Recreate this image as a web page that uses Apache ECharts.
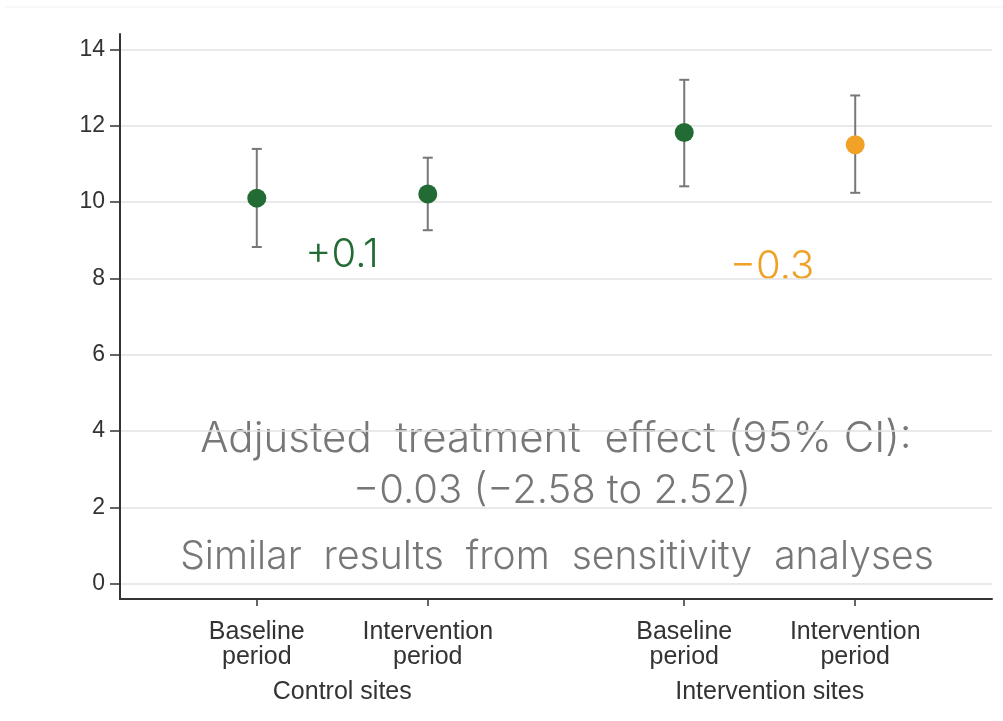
<!DOCTYPE html>
<html>
<head>
<meta charset="utf-8">
<script src="https://cdn.jsdelivr.net/npm/echarts@6/dist/echarts.min.js"></script>
<style>html,body{margin:0;padding:0;background:#fff}#c{width:1003px;height:721px}</style>
</head>
<body>
<div id="c"></div>
<script>
// ---- data ----
const periodLabels = ['Baseline\nperiod', 'Intervention\nperiod', 'Baseline\nperiod', 'Intervention\nperiod'];
const xPositions = [1, 2, 3.5, 4.5];
const groupLabels = ['Control sites', 'Intervention sites'];
const groupPositions = [1.5, 4];
const means = [10.10, 10.21, 11.82, 11.50];
const lower = [8.82, 9.26, 10.41, 10.24];
const upper = [11.39, 11.16, 13.20, 12.79];
const pointColors = ['#236b35', '#236b35', '#236b35', '#f0a126'];
const yTicks = [0, 2, 4, 6, 8, 10, 12, 14];
const diffLabels = ['+0.1', '\u22120.3'];
const diffColors = ['#236b35', '#f0a126'];
const noteLines = ['Adjusted  treatment  effect (95% CI):', '\u22120.03 (\u22122.58 to 2.52)', 'Similar  results  from  sensitivity  analyses'];

const chart = echarts.init(document.getElementById('c'), null, {renderer: 'canvas'});
const labelFont = "'Liberation Sans', Arial, Helvetica, sans-serif";
const noteFont = "Inter, 'Open Sans', sans-serif";

const option = {
  backgroundColor: '#fff',
  animation: false,
  grid: {left: 120, right: 11, top: 34, bottom: 122, containLabel: false},
  xAxis: [{
    type: 'value', min: 0.2, max: 5.3,
    axisLine: {show: true, onZero: false, lineStyle: {color: '#333', width: 2}},
    axisTick: {show: true, length: 7, customValues: xPositions, lineStyle: {color: '#333', width: 1.5}},
    axisLabel: {
      customValues: xPositions, margin: 21, color: '#333', fontSize: 25, lineHeight: 25,
      fontFamily: labelFont,
      formatter: v => { const i = xPositions.indexOf(v); return i >= 0 ? periodLabels[i] : ''; }
    },
    splitLine: {show: false}
  }, {
    type: 'value', min: 0.2, max: 5.3, position: 'bottom',
    axisLine: {show: false}, axisTick: {show: false}, splitLine: {show: false},
    axisLabel: {
      customValues: groupPositions, margin: 81, color: '#333', fontSize: 25,
      fontFamily: labelFont,
      formatter: v => { const i = groupPositions.indexOf(v); return i >= 0 ? groupLabels[i] : ''; }
    }
  }],
  yAxis: {
    type: 'value', min: -0.4, max: 14.4,
    axisLine: {show: true, onZero: false, lineStyle: {color: '#333', width: 2}},
    axisTick: {show: true, length: 10, customValues: yTicks, lineStyle: {color: '#333', width: 1.5}},
    axisLabel: {customValues: yTicks, margin: 15, color: '#333', fontSize: 23, fontFamily: labelFont},
    splitLine: {show: true, lineStyle: {color: '#e2e2e2', width: 1.5}}
  },
  series: [{
    type: 'custom',
    data: xPositions.map((x, i) => [x, lower[i], upper[i]]),
    renderItem: (params, api) => {
      const x = api.value(0);
      const lo = api.coord([x, api.value(1)]);
      const hi = api.coord([x, api.value(2)]);
      const w = 5;
      const st = {stroke: '#777', lineWidth: 2};
      return {type: 'group', children: [
        {type: 'line', shape: {x1: lo[0], y1: lo[1], x2: hi[0], y2: hi[1]}, style: st},
        {type: 'line', shape: {x1: lo[0] - w, y1: lo[1], x2: lo[0] + w, y2: lo[1]}, style: st},
        {type: 'line', shape: {x1: hi[0] - w, y1: hi[1], x2: hi[0] + w, y2: hi[1]}, style: st}
      ]};
    },
    z: 2
  }, {
    type: 'scatter',
    symbolSize: 19,
    data: xPositions.map((x, i) => ({value: [x, means[i]], itemStyle: {color: pointColors[i], opacity: 1}})),
    itemStyle: {opacity: 1},
    z: 3
  }],
  graphic: [
    {type: 'line', shape: {x1: 5, y1: 7, x2: 1003, y2: 7}, style: {stroke: '#efefef', lineWidth: 1}, silent: true},
    {type: 'text', x: 342, y: 255, style: {text: diffLabels[0], fill: diffColors[0], font: "300 40px " + noteFont, textAlign: 'center', textVerticalAlign: 'middle'}},
    {type: 'text', x: 772, y: 267, style: {text: diffLabels[1], fill: diffColors[1], font: "300 40px " + noteFont, textAlign: 'center', textVerticalAlign: 'middle'}},
    {type: 'text', x: 556, y: 439, style: {text: noteLines[0], fill: '#777', font: "300 42px " + noteFont, textAlign: 'center', textVerticalAlign: 'middle'}},
    {type: 'text', x: 552, y: 491, style: {text: noteLines[1], fill: '#777', font: "300 40px " + noteFont, textAlign: 'center', textVerticalAlign: 'middle'}},
    {type: 'text', x: 557, y: 557, style: {text: noteLines[2], fill: '#777', font: "300 39px " + noteFont, textAlign: 'center', textVerticalAlign: 'middle'}}
  ]
};
chart.setOption(option);
</script>
</body>
</html>
